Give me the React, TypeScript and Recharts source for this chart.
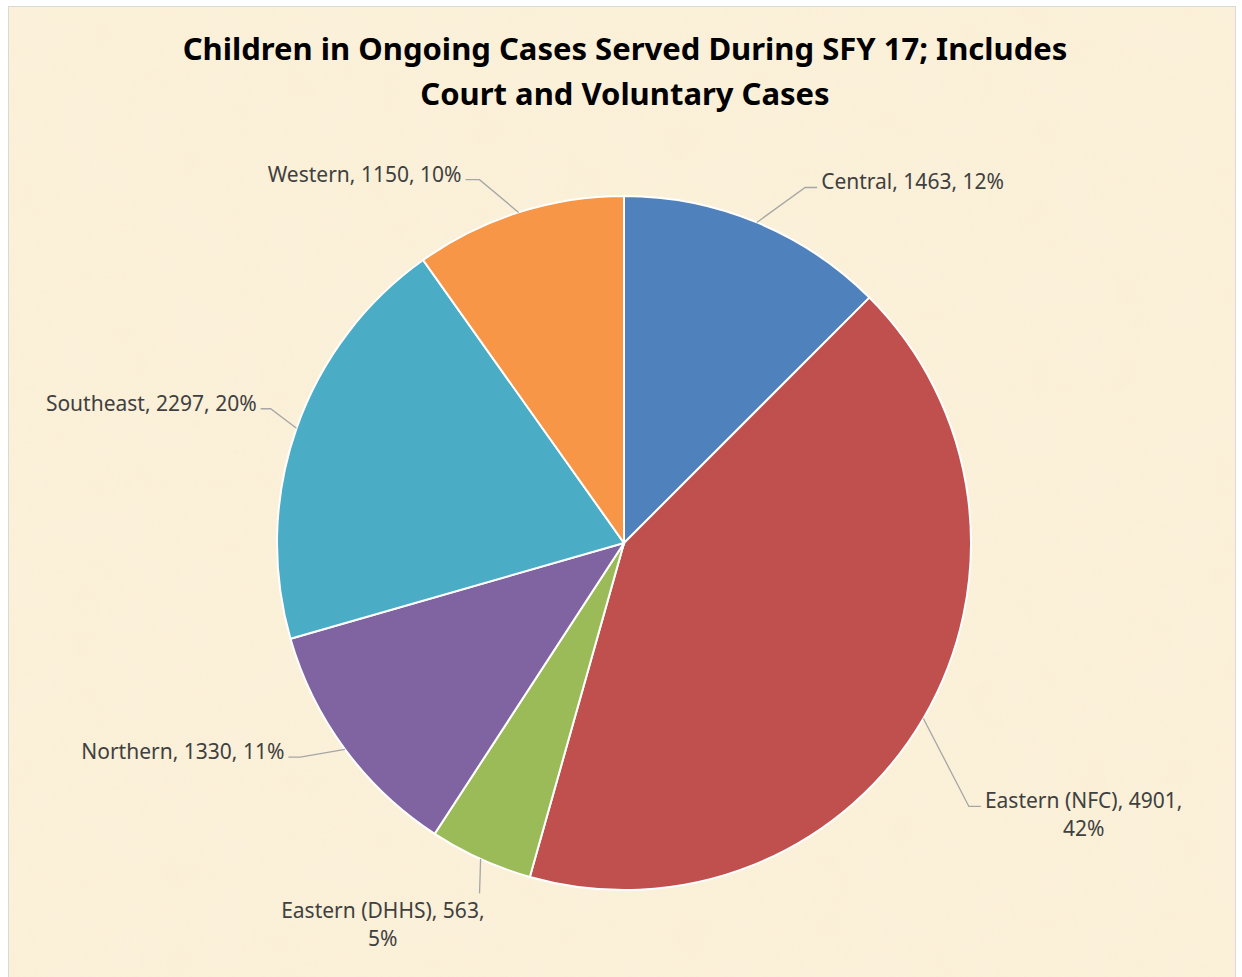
import React from 'react';
import { PieChart, Pie, Cell } from 'recharts';

// Children in ongoing cases, SFY 17 (court + voluntary)
const regions = ['Central', 'Eastern (NFC)', 'Eastern (DHHS)', 'Northern', 'Southeast', 'Western'];
const children = [1463, 4901, 563, 1330, 2297, 1150];
const pctLabels = ['12%', '42%', '5%', '11%', '20%', '10%'];

const COLORS = ['#4F81BD', '#C0504D', '#9BBB59', '#8064A2', '#4BACC6', '#F79646'];

const TITLE_LINES = ['Children in Ongoing Cases Served During SFY 17; Includes', 'Court and Voluntary Cases'];

const LABEL_SIZE = 21;
const LABEL_FONT = `${LABEL_SIZE}px "Noto Sans"`;
const LABEL_COLOR = '#404040';
const LEADER_COLOR = '#A6A6A6';

// leader line layout per slice: radial extension, angular nudge (deg), horizontal run
const labelLayout: Record<string, { ext: number; shift: number; run: number; side: string }> = {
  Central: { ext: 52, shift: 4.5, run: 12, side: 'right' },
  'Eastern (NFC)': { ext: 87, shift: 7, run: 12, side: 'wrap' },
  'Eastern (DHHS)': { ext: 32, shift: -2, run: 0, side: 'below' },
  Northern: { ext: 41, shift: 3, run: 12, side: 'left' },
  Southeast: { ext: 31, shift: 1.5, run: 10, side: 'left' },
  Western: { ext: 44, shift: -4, run: 14, side: 'left' },
};

const data = regions.map((name, i) => ({ name, value: children[i], pct: pctLabels[i] }));

let ctx: CanvasRenderingContext2D | null = null;
function textWidth(s: string) {
  if (!ctx) ctx = document.createElement('canvas').getContext('2d');
  if (!ctx) return s.length * 10;
  ctx.font = LABEL_FONT;
  return ctx.measureText(s).width;
}

// clockwise-from-top angle
function polar(cx: number, cy: number, r: number, deg: number) {
  const a = (deg * Math.PI) / 180;
  return { x: cx + r * Math.sin(a), y: cy - r * Math.cos(a) };
}

function renderLabel(props: any) {
  const { cx, cy, midAngle, outerRadius, index } = props;
  const d = data[index];
  const lay = labelLayout[d.name];
  const theta = 90 - midAngle;
  const p0 = polar(cx, cy, outerRadius, theta);
  const p1 = polar(cx, cy, outerRadius + lay.ext, theta + lay.shift);
  const textStyle = { fontFamily: '"Noto Sans"', fontSize: LABEL_SIZE, fill: LABEL_COLOR };

  if (lay.side === 'below') {
    const l1 = `${d.name}, ${d.value},`;
    const w = textWidth(l1);
    const mid = p1.x + 5 - w / 2;
    return (
      <g>
        <polyline points={`${p0.x},${p0.y} ${p1.x},${p1.y}`} fill="none" stroke={LEADER_COLOR} strokeWidth={1.3} />
        <text x={mid} y={p1.y + 17} textAnchor="middle" dominantBaseline="central" style={textStyle}>
          <tspan x={mid}>{l1}</tspan>
          <tspan x={mid} dy={28}>{d.pct}</tspan>
        </text>
      </g>
    );
  }

  const dir = lay.side === 'left' ? -1 : 1;
  const p2 = { x: p1.x + dir * lay.run, y: p1.y };
  const tx = p2.x + dir * 4;
  const ty = p1.y - 6;

  if (lay.side === 'wrap') {
    const l1 = `${d.name}, ${d.value},`;
    const w = textWidth(l1);
    const mid = tx + w / 2;
    return (
      <g>
        <polyline points={`${p0.x},${p0.y} ${p1.x},${p1.y} ${p2.x},${p2.y}`} fill="none" stroke={LEADER_COLOR} strokeWidth={1.3} />
        <text x={mid} y={ty} textAnchor="middle" dominantBaseline="central" style={textStyle}>
          <tspan x={mid}>{l1}</tspan>
          <tspan x={mid} dy={28}>{d.pct}</tspan>
        </text>
      </g>
    );
  }

  return (
    <g>
      <polyline points={`${p0.x},${p0.y} ${p1.x},${p1.y} ${p2.x},${p2.y}`} fill="none" stroke={LEADER_COLOR} strokeWidth={1.3} />
      <text x={tx} y={ty} textAnchor={dir < 0 ? 'end' : 'start'} dominantBaseline="central" style={textStyle}>
        {`${d.name}, ${d.value}, ${d.pct}`}
      </text>
    </g>
  );
}

export default function App() {
  return (
    <>
      <style>{`body{margin:0;overflow:hidden;}`}</style>
      <div
        style={{
          position: 'absolute',
          left: 8,
          top: 6,
          width: 1226,
          height: 990,
          border: '1px solid #D9D9D9',
          background: '#FBF0D9',
          overflow: 'hidden',
        }}
      >
        <svg width={1226} height={990} style={{ position: 'absolute', left: 0, top: 0 }}>
          <filter id="parchment">
            <feTurbulence type="fractalNoise" baseFrequency="0.02" numOctaves={3} seed={4} />
            <feColorMatrix type="matrix" values="0 0 0 0 0.93  0 0 0 0 0.84  0 0 0 0 0.62  0 0 0 0.9 -0.25" />
          </filter>
          <rect width="100%" height="100%" filter="url(#parchment)" opacity={0.4} />
        </svg>
        <div
          style={{
            position: 'absolute',
            left: 0,
            top: 19,
            width: 1232,
            textAlign: 'center',
            fontFamily: '"Noto Sans", sans-serif',
            fontWeight: 700,
            fontSize: 31,
            lineHeight: '45px',
            color: '#000',
          }}
        >
          {TITLE_LINES.map((t) => (
            <div key={t}>{t}</div>
          ))}
        </div>
        <div style={{ position: 'absolute', left: 0, top: 0 }}>
          <PieChart width={1226} height={990}>
            <Pie
              data={data}
              dataKey="value"
              nameKey="name"
              cx={610}
              cy={531}
              outerRadius={347}
              startAngle={90}
              endAngle={-270}
              stroke="#FFFFFF"
              strokeWidth={2}
              label={renderLabel}
              labelLine={false}
              isAnimationActive={false}
            >
              {data.map((entry, i) => (
                <Cell key={entry.name} fill={COLORS[i % COLORS.length]} />
              ))}
            </Pie>
          </PieChart>
        </div>
      </div>
    </>
  );
}
